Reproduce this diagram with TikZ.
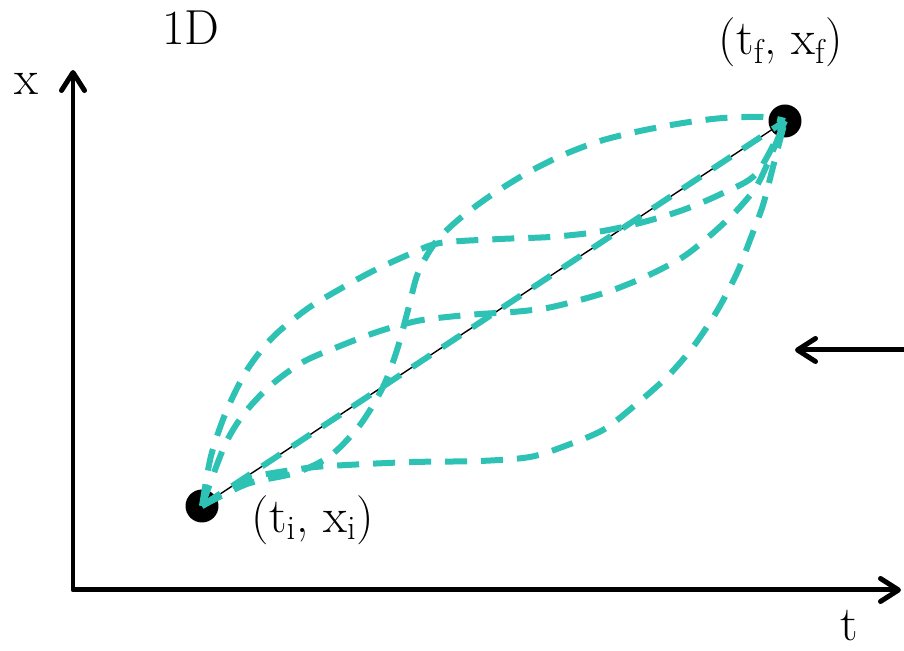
\documentclass[tikz,border=0pt]{standalone}
\usepackage{tikz}
\usetikzlibrary{arrows.meta}
\definecolor{pathteal}{RGB}{46,194,180}
\tikzset{barb/.tip={Straight Barb[round,length=0.36cm,width=0.46cm]}}

\begin{document}
\begin{tikzpicture}[x=0.02cm,y=-0.02cm,
  axis/.style={line width=0.1cm,line join=round},
  endpt/.style={circle,fill=black,inner sep=0pt,minimum size=0.66cm},
  trial/.style={pathteal,line width=0.12cm,dash pattern=on 0.44cm off 0.28cm},
  lbl/.style={font=\fontsize{28}{33}\selectfont,inner sep=0pt}]
  \useasboundingbox (0,0) rectangle (904,651);
  \coordinate (xtop) at (73,70);
  \coordinate (o) at (73,590);
  \coordinate (tright) at (901,590);
  \coordinate (src) at (904,350);
  \coordinate (tip) at (795,350);
  \draw[axis,barb-barb] (xtop) -- (o) -- (tright);
  \draw[axis,-barb] (src) -- (tip);
  \node[endpt] (ti) at (202,506) {};
  \node[endpt] (tf) at (785,121) {};
  \draw[line width=0.8pt] (ti.center) -- (tf.center);
  \draw[trial] (ti.center) -- (tf.center);
  \draw[trial] plot[smooth] coordinates {(ti.center) (247,484) (295,473) (330,456)
    (360,425) (383,387) (397,350) (408,310) (418,273) (435,243) (458,220) (490,196)
    (527,173) (563,155) (600,141) (640,131) (683,123) (723,118) (763,117) (tf.center)};
  \draw[trial] plot[smooth] coordinates {(ti.center) (211,456) (226,412) (247,370)
    (273,337) (307,309) (340,289) (373,271) (410,254) (440,243) (500,239) (550,237)
    (597,232) (640,223) (683,210) (723,193) (757,173) (tf.center)};
  \draw[trial] plot[smooth] coordinates {(ti.center) (224,447) (243,415) (270,386)
    (303,362) (340,346) (380,331) (417,321) (447,317) (480,314) (513,312) (547,308)
    (580,300) (613,290) (647,276) (683,257) (713,233) (740,207) (760,180) (tf.center)};
  \draw[trial] plot[smooth] coordinates {(ti.center) (247,479) (307,468) (347,465)
    (413,462) (480,461) (530,457) (565,446) (603,430) (633,407) (667,377) (693,347)
    (717,311) (737,273) (750,240) (763,205) (773,167) (tf.center)};
  \node[lbl] (dim) at (191,28) {1D};
  \node[lbl] (xlab) at (26,84) {x};
  \node[lbl] (tlab) at (849,626) {t};
  \node[lbl] (tflab) at (781,42) {(t\textsubscript{f}, x\textsubscript{f})};
  \node[lbl] (tilab) at (313,520) {(t\textsubscript{i}, x\textsubscript{i})};
\end{tikzpicture}
\end{document}
